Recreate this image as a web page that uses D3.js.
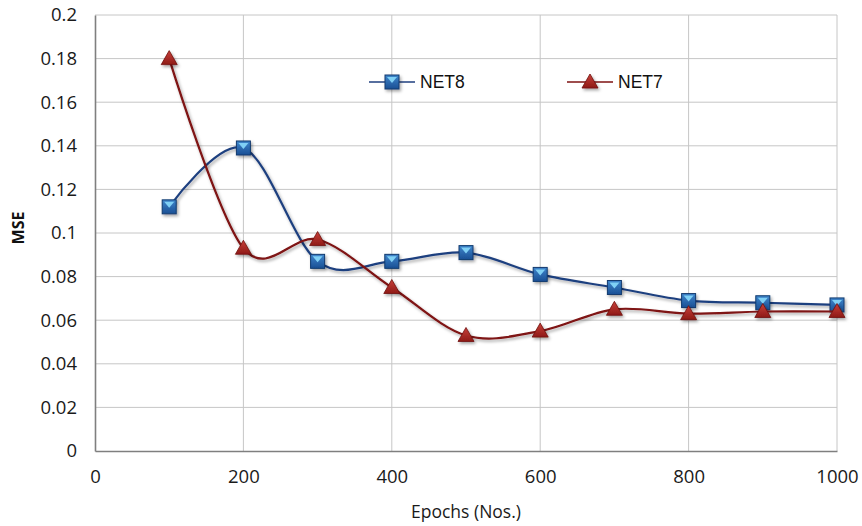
<!DOCTYPE html>
<html><head><meta charset="utf-8">
<script src="https://cdn.jsdelivr.net/npm/d3@7"></script>
<style>body{margin:0;background:#fff}svg{display:block}</style>
</head><body>
<svg id="c" width="862" height="526"></svg>
<script>
const epochs = [100,200,300,400,500,600,700,800,900,1000];
const net8 = [0.112,0.139,0.087,0.087,0.091,0.081,0.075,0.069,0.068,0.067];
const net7 = [0.180,0.093,0.097,0.075,0.053,0.055,0.065,0.063,0.064,0.064];
const xTicks = [0,200,400,600,800,1000];
const yTicks = [0,0.02,0.04,0.06,0.08,0.1,0.12,0.14,0.16,0.18,0.2];
const seriesNames = ["NET8","NET7"];

const svg = d3.select("#c");
const L=95,R=837,T=15,B=451;
const x = d3.scaleLinear().domain([0,1000]).range([L,R]);
const y = d3.scaleLinear().domain([0,0.2]).range([B,T]);
const FONT = "'Open Sans', Lato, sans-serif";

const defs = svg.append("defs");
const f = defs.append("filter").attr("id","sh").attr("x","-50%").attr("y","-50%").attr("width","200%").attr("height","200%");
f.append("feDropShadow").attr("dx",1.5).attr("dy",2).attr("stdDeviation",1.5).attr("flood-color","#000").attr("flood-opacity",0.35);
const gb = defs.append("linearGradient").attr("id","gb").attr("x1",0).attr("y1",0).attr("x2",0).attr("y2",1);
gb.append("stop").attr("offset","0%").attr("stop-color","#3f86cc");
gb.append("stop").attr("offset","100%").attr("stop-color","#1a4f94");
const gr = defs.append("linearGradient").attr("id","gr").attr("x1",0).attr("y1",0).attr("x2",0).attr("y2",1);
gr.append("stop").attr("offset","0%").attr("stop-color","#c8403a");
gr.append("stop").attr("offset","100%").attr("stop-color","#8e1a16");

// grid
svg.append("g").selectAll("line").data(yTicks.filter(d=>d>0)).join("line")
  .attr("x1",L).attr("x2",R).attr("y1",d=>y(d)).attr("y2",d=>y(d))
  .attr("stroke","#c6c6c6").attr("stroke-width",1);
svg.append("g").selectAll("line").data(xTicks.filter(d=>d>0)).join("line")
  .attr("y1",T).attr("y2",B).attr("x1",d=>x(d)).attr("x2",d=>x(d))
  .attr("stroke","#c6c6c6").attr("stroke-width",1);

// axes
const ya = svg.append("g").attr("transform",`translate(${L},0)`)
  .call(d3.axisLeft(y).tickValues(yTicks).tickSize(0).tickPadding(18).tickFormat(d=>d3.format("~g")(d)));
const xa = svg.append("g").attr("transform",`translate(0,${B})`)
  .call(d3.axisBottom(x).tickValues(xTicks).tickSize(0).tickPadding(19).tickFormat(d=>String(d)));
[ya,xa].forEach(a=>{
  a.select(".domain").attr("stroke","#7f7f7f").attr("stroke-width",1.6);
  a.selectAll("text").attr("font-family",FONT).attr("font-size",18.5).attr("fill","#1a1a1a");
});

svg.append("text").attr("x",466).attr("y",518).attr("text-anchor","middle")
  .attr("font-family",FONT).attr("font-size",17.5).attr("fill","#1a1a1a").text("Epochs (Nos.)");
svg.append("text").attr("transform","translate(24,228) rotate(-90)").attr("text-anchor","middle")
  .attr("font-family",FONT).attr("font-weight","bold").attr("font-size",16).attr("fill","#111").text("MSE");

const line = d3.line().x(d=>x(d[0])).y(d=>y(d[1])).curve(d3.curveCardinal.tension(0));
const d8 = epochs.map((e,i)=>[e,net8[i]]);
const d7 = epochs.map((e,i)=>[e,net7[i]]);

function square(g,cx,cy){
  const s=14;
  const m = g.append("g").attr("filter","url(#sh)");
  m.append("rect").attr("x",cx-s/2).attr("y",cy-s/2).attr("width",s).attr("height",s)
    .attr("fill","url(#gb)").attr("stroke","#123a6e").attr("stroke-width",1);
  m.append("path").attr("d",`M${cx-5},${cy-5}L${cx+5},${cy-5}L${cx},${cy+1}Z`).attr("fill","#7fd0f5");
}
function tri(g,cx,cy){
  const m = g.append("g").attr("filter","url(#sh)");
  m.append("path").attr("d",`M${cx},${cy-8}L${cx+8},${cy+6}L${cx-8},${cy+6}Z`)
    .attr("fill","url(#gr)").attr("stroke","#6e100c").attr("stroke-width",0.8);
}

const g8 = svg.append("g"), g7 = svg.append("g");
g8.append("path").datum(d8).attr("d",line).attr("fill","none").attr("stroke","#1f3f7f").attr("stroke-width",2.2).attr("filter","url(#sh)");
g7.append("path").datum(d7).attr("d",line).attr("fill","none").attr("stroke","#7e1212").attr("stroke-width",2.2).attr("filter","url(#sh)");
d8.forEach(d=>square(g8,x(d[0]),y(d[1])));
d7.forEach(d=>tri(g7,x(d[0]),y(d[1])));

// legend
const lg = svg.append("g");
lg.append("line").attr("x1",369).attr("x2",415).attr("y1",82).attr("y2",82).attr("stroke","#1f3f7f").attr("stroke-width",1.5);
square(lg,392,82);
lg.append("text").attr("x",420).attr("y",88).attr("font-family","'Liberation Sans', Arial, sans-serif").attr("font-size",17.5).attr("fill","#111").text(seriesNames[0]);
lg.append("line").attr("x1",567).attr("x2",613).attr("y1",82).attr("y2",82).attr("stroke","#7e1212").attr("stroke-width",1.5);
tri(lg,590,82);
lg.append("text").attr("x",618).attr("y",88).attr("font-family","'Liberation Sans', Arial, sans-serif").attr("font-size",17.5).attr("fill","#111").text(seriesNames[1]);
</script>
</body></html>
